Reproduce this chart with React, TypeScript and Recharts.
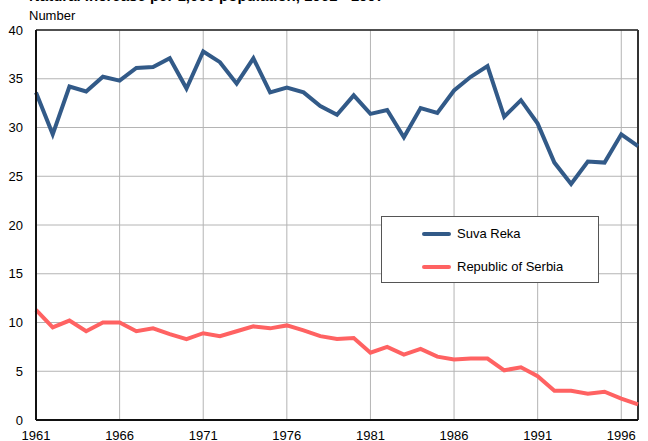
import React from "react";
import { LineChart, Line, XAxis, YAxis, CartesianGrid, ReferenceLine } from "recharts";

const years = [
  1961, 1962, 1963, 1964, 1965, 1966, 1967, 1968, 1969, 1970, 1971, 1972, 1973,
  1974, 1975, 1976, 1977, 1978, 1979, 1980, 1981, 1982, 1983, 1984, 1985, 1986,
  1987, 1988, 1989, 1990, 1991, 1992, 1993, 1994, 1995, 1996, 1997,
];

const suvaReka = [
  33.6, 29.3, 34.2, 33.7, 35.2, 34.8, 36.1, 36.2, 37.1, 34.0, 37.8, 36.7, 34.5,
  37.1, 33.6, 34.1, 33.6, 32.2, 31.3, 33.3, 31.4, 31.8, 29.0, 32.0, 31.5, 33.8,
  35.2, 36.3, 31.1, 32.8, 30.4, 26.4, 24.2, 26.5, 26.4, 29.3, 28.1,
];

const serbia = [
  11.3, 9.5, 10.2, 9.1, 10.0, 10.0, 9.1, 9.4, 8.8, 8.3, 8.9, 8.6, 9.1,
  9.6, 9.4, 9.7, 9.2, 8.6, 8.3, 8.4, 6.9, 7.5, 6.7, 7.3, 6.5, 6.2,
  6.3, 6.3, 5.1, 5.4, 4.5, 3.0, 3.0, 2.7, 2.9, 2.2, 1.6,
];

const xTicks = [1961, 1966, 1971, 1976, 1981, 1986, 1991, 1996];
const yTicks = [0, 5, 10, 15, 20, 25, 30, 35, 40];

const title = "Natural increase per 1,000 population, 1961 - 1997";
const unitLabel = "Number";

const seriesNames = { suva: "Suva Reka", serbia: "Republic of Serbia" };
const colors = { suva: "#325a88", serbia: "#ff6262" };

const data = years.map((year, i) => ({ year, suva: suvaReka[i], serbia: serbia[i] }));

const font = "'Liberation Sans', Arial, sans-serif";

function LegendBox() {
  const items = [
    { key: "suva", label: seriesNames.suva, color: colors.suva },
    { key: "serbia", label: seriesNames.serbia, color: colors.serbia },
  ];
  return (
    <div
      style={{
        position: "absolute",
        left: 381,
        top: 216,
        width: 218,
        height: 67,
        boxSizing: "border-box",
        border: "1px solid #555",
        background: "#fff",
        fontFamily: font,
        fontSize: 13,
        color: "#000",
        paddingTop: 8,
      }}
    >
      {items.map((it) => (
        <div key={it.key} style={{ display: "flex", alignItems: "center", height: 17, marginBottom: 16 }}>
          <span
            style={{
              display: "inline-block",
              width: 29,
              height: 4,
              borderRadius: 2,
              background: it.color,
              marginLeft: 40,
              marginRight: 6,
            }}
          />
          <span>{it.label}</span>
        </div>
      ))}
    </div>
  );
}

export default function App() {
  return (
    <div style={{ position: "absolute", left: 0, top: 0, width: 648, height: 441, overflow: "hidden", background: "#fff" }}>
      <LineChart
        width={648}
        height={441}
        data={data}
        margin={{ top: 30, right: 10, left: 0, bottom: 0 }}
        style={{ position: "absolute", left: 0, top: 0 }}
      >
        <CartesianGrid stroke="#b4b4b4" strokeWidth={1} />
        <XAxis
          dataKey="year"
          type="number"
          domain={[1961, 1997]}
          ticks={xTicks}
          interval={0}
          height={21}
          tickLine={false}
          tickSize={0}
          tickMargin={11}
          axisLine={{ stroke: "#111", strokeWidth: 2 }}
          tick={{ fill: "#000", fontSize: 13, fontFamily: font }}
        />
        <YAxis
          type="number"
          domain={[0, 40]}
          ticks={yTicks}
          interval={0}
          width={36}
          tickLine={false}
          tickSize={0}
          tickMargin={13}
          axisLine={{ stroke: "#111", strokeWidth: 2 }}
          tick={{ fill: "#000", fontSize: 13, fontFamily: font }}
        />
        <ReferenceLine y={40} stroke="#222" strokeWidth={1.5} />
        <ReferenceLine x={1997} stroke="#333" strokeWidth={2} />
        <Line
          type="linear"
          dataKey="suva"
          name={seriesNames.suva}
          stroke={colors.suva}
          strokeWidth={4}
          dot={false}
          isAnimationActive={false}
        />
        <Line
          type="linear"
          dataKey="serbia"
          name={seriesNames.serbia}
          stroke={colors.serbia}
          strokeWidth={4}
          dot={false}
          isAnimationActive={false}
        />
      </LineChart>
      <div
        style={{
          position: "absolute",
          left: 29,
          top: -13,
          fontFamily: font,
          fontWeight: "bold",
          fontSize: 15,
          whiteSpace: "nowrap",
          color: "#000",
        }}
      >
        {title}
      </div>
      <div
        style={{
          position: "absolute",
          left: 29,
          top: 8,
          fontFamily: font,
          fontSize: 13,
          color: "#000",
        }}
      >
        {unitLabel}
      </div>
      <LegendBox />
    </div>
  );
}
